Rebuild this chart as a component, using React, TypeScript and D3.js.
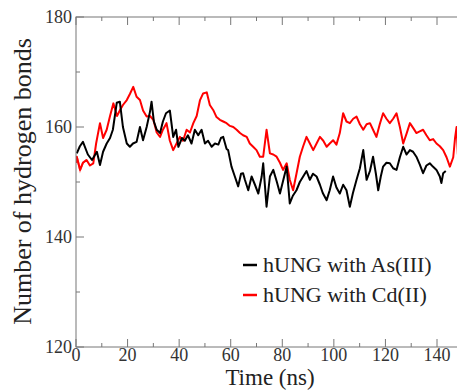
import React from "react";
import * as d3 from "d3";

const xTicks = [0, 20, 40, 60, 80, 100, 120, 140];
const yTicks = [120, 140, 160, 180];
const seriesNames = ["hUNG with As(III)", "hUNG with Cd(II)"];
const seriesColors = ["#000000", "#ff0000"];

const asTime = [0.3, 1.5, 2.7, 4.6, 6.2, 8.1, 9.3, 10.5, 11.9, 13.2, 14.3, 15.8, 17.0, 18.2, 19.7, 20.9, 22.1, 23.5, 24.8, 26.0, 27.4, 28.7, 29.3, 30.2, 31.3, 32.6, 33.7, 34.9, 36.4, 37.7, 38.8, 39.7, 41.1, 42.2, 43.4, 44.8, 46.1, 47.4, 48.7, 50.0, 51.2, 52.6, 53.9, 55.2, 56.2, 57.1, 58.4, 59.0, 60.3, 61.6, 62.9, 64.0, 64.8, 65.5, 66.8, 68.1, 69.4, 70.7, 72.0, 72.6, 73.9, 75.2, 76.5, 77.9, 79.1, 80.2, 81.7, 82.9, 84.1, 85.5, 86.8, 88.1, 89.4, 90.7, 91.9, 93.3, 94.6, 95.7, 97.2, 98.4, 99.7, 101.0, 102.3, 103.6, 104.9, 106.2, 107.4, 108.8, 110.1, 111.4, 112.7, 114.0, 115.2, 116.3, 117.2, 118.2, 119.1, 120.4, 121.7, 123.0, 124.3, 125.6, 126.9, 128.2, 129.5, 130.7, 132.0, 133.3, 134.6, 135.9, 137.2, 138.4, 139.8, 141.1, 141.7, 142.4, 143.4];
const asValues = [155.2, 156.5, 157.3, 155.0, 154.0, 155.5, 153.1, 155.5, 157.0, 158.0, 159.5, 164.4, 164.6, 160.0, 157.0, 156.4, 157.0, 157.3, 160.0, 157.6, 160.0, 162.8, 164.6, 161.0, 159.5, 158.9, 161.0, 162.5, 163.0, 158.2, 159.5, 156.4, 158.0, 157.5, 158.5, 157.0, 159.5, 158.5, 159.5, 157.0, 157.5, 156.4, 157.0, 156.8, 158.0, 158.2, 156.0, 155.8, 152.8, 151.0, 149.2, 151.5, 151.6, 150.4, 148.5, 151.0, 149.5, 147.9, 151.0, 153.4, 145.5, 151.0, 152.2, 150.0, 147.9, 150.0, 152.8, 146.1, 147.5, 148.5, 150.0, 151.0, 152.0, 150.4, 151.5, 151.0, 149.5, 148.0, 146.7, 148.5, 151.0, 149.0, 147.9, 149.5, 148.5, 145.5, 148.0, 150.4, 152.5, 155.8, 150.4, 152.0, 154.6, 151.5, 148.5, 151.0, 152.8, 153.5, 153.4, 152.5, 152.2, 154.5, 156.4, 155.0, 155.8, 155.5, 154.6, 153.2, 151.6, 153.0, 153.4, 152.8, 152.2, 151.0, 149.8, 151.6, 152.0];

const cdTime = [0.0, 0.3, 1.6, 2.7, 4.1, 5.4, 6.7, 7.8, 9.3, 10.5, 11.9, 13.2, 14.5, 15.9, 17.1, 18.2, 19.7, 20.9, 22.2, 23.5, 24.8, 26.0, 27.4, 28.7, 30.0, 31.3, 32.6, 33.7, 35.1, 36.4, 37.7, 39.0, 40.3, 41.5, 42.9, 44.2, 45.5, 46.8, 48.1, 49.3, 50.7, 51.9, 53.2, 54.5, 55.8, 57.1, 58.4, 59.7, 61.0, 62.3, 63.6, 64.8, 66.2, 67.4, 68.7, 70.0, 71.3, 72.6, 73.9, 75.2, 76.5, 77.8, 79.1, 80.3, 81.7, 82.9, 84.2, 85.5, 86.8, 88.1, 89.4, 90.7, 92.0, 93.3, 94.6, 95.9, 97.2, 98.4, 99.7, 101.0, 102.3, 103.6, 104.9, 106.2, 107.5, 108.8, 110.1, 111.4, 112.7, 114.0, 115.2, 116.5, 117.8, 119.1, 120.4, 121.7, 123.0, 124.3, 125.6, 126.9, 128.2, 129.5, 130.8, 132.0, 133.3, 134.6, 135.9, 137.2, 138.5, 139.8, 141.1, 142.4, 143.7, 145.0, 146.3, 147.0, 147.6, 148.1];
const cdValues = [153.5, 154.6, 152.2, 153.5, 154.0, 153.0, 153.4, 157.0, 160.7, 158.0, 159.5, 162.0, 164.3, 162.0, 163.1, 164.0, 164.9, 166.0, 167.3, 165.5, 164.9, 163.0, 161.9, 162.0, 161.3, 159.0, 158.2, 159.5, 160.7, 157.5, 155.8, 157.0, 158.2, 157.5, 159.5, 159.0, 160.7, 162.0, 164.9, 166.1, 166.3, 164.0, 163.1, 161.8, 161.3, 161.0, 160.7, 160.2, 160.0, 159.5, 158.9, 158.5, 158.2, 157.0, 156.4, 155.8, 154.6, 154.6, 159.5, 155.2, 155.0, 154.6, 153.5, 152.2, 153.4, 150.4, 148.5, 151.5, 154.6, 156.5, 158.2, 157.0, 155.8, 157.0, 158.2, 157.5, 156.4, 157.0, 157.6, 156.8, 158.9, 162.5, 161.0, 160.7, 161.5, 161.9, 160.5, 159.5, 160.5, 160.7, 159.5, 158.2, 160.5, 162.5, 161.5, 160.7, 161.5, 162.5, 160.0, 157.0, 158.8, 160.7, 159.8, 158.9, 159.2, 159.5, 158.5, 157.6, 157.8, 157.0, 156.5, 155.8, 154.5, 152.8, 154.5, 158.0, 160.0, 155.0];

const W = 457;
const H = 390;
const left = 76;
const top = 17;
const bottom = 347;
const xMax = 150;
const FONT = "'Liberation Serif', 'DejaVu Serif', 'Times New Roman', serif";

export default function App() {
  const x = d3.scaleLinear().domain([0, xMax]).range([left, left + (437 - 76) * (150 / 140)]);
  const y = d3.scaleLinear().domain([120, 180]).range([bottom, top]);
  const right = x(xMax);

  const line = d3
    .line<[number, number]>()
    .x((d) => x(d[0]))
    .y((d) => y(d[1]));

  const asData = asTime.map((t, i) => [t, asValues[i]] as [number, number]);
  const cdData = cdTime.map((t, i) => [t, cdValues[i]] as [number, number]);

  const xMinor = d3.range(0, xMax + 1, 10);
  const yMinor = d3.range(120, 181, 10);
  const tstyle = { fontFamily: FONT };

  return (
    <svg
      width={W}
      height={H}
      style={{ position: "absolute", left: 0, top: 0, background: "#fff", fontFamily: FONT }}
    >
      <defs>
        <clipPath id="plotclip">
          <rect x={left} y={top} width={right - left} height={bottom - top} />
        </clipPath>
      </defs>
      <g clipPath="url(#plotclip)">
        <path d={line(cdData) || ""} fill="none" stroke={seriesColors[1]} strokeWidth={2} strokeLinejoin="round" />
        <path d={line(asData) || ""} fill="none" stroke={seriesColors[0]} strokeWidth={2} strokeLinejoin="round" />
        <path d={line(cdData.filter((d) => d[0] < 5)) || ""} fill="none" stroke={seriesColors[1]} strokeWidth={2} opacity={0.6} />
      </g>
      <rect x={left} y={top} width={right - left} height={bottom - top} fill="none" stroke="#777" strokeWidth={1} />
      {xMinor.map((t) => {
        const major = t % 20 === 0;
        const len = major ? 8 : 4;
        return (
          <g key={"xt" + t}>
            <line x1={x(t)} x2={x(t)} y1={bottom} y2={bottom - len} stroke="#777" />
            <line x1={x(t)} x2={x(t)} y1={top} y2={top + len} stroke="#777" />
          </g>
        );
      })}
      {yMinor.map((v) => {
        const major = v % 20 === 0;
        const len = major ? 8 : 4;
        return <line key={"yt" + v} x1={left} x2={left + len} y1={y(v)} y2={y(v)} stroke="#777" />;
      })}
      {xTicks.map((t) => (
        <text key={"xl" + t} x={x(t)} y={361} textAnchor="middle" fontSize={18} fill="#333" style={tstyle}>
          {t}
        </text>
      ))}
      {yTicks.map((v) => (
        <text key={"yl" + v} x={72} y={y(v) + 6} textAnchor="end" fontSize={18} fill="#333" style={tstyle}>
          {v}
        </text>
      ))}
      <text x={270} y={384.5} textAnchor="middle" fontSize={23} fill="#222" style={tstyle}>
        Time (ns)
      </text>
      <text
        transform={`translate(31,${(30 + 333) / 2}) rotate(-90)`}
        textAnchor="middle"
        fontSize={26}
        fill="#222"
        style={tstyle}
      >
        Number of hydrogen bonds
      </text>
      {seriesNames.map((name, i) => (
        <g key={name} transform={`translate(0,${265 + i * 30})`}>
          <line x1={243} x2={257} y1={0} y2={0} stroke={seriesColors[i]} strokeWidth={2.5} />
          <text x={263} y={7} fontSize={22} fill="#222" style={tstyle}>
            {name}
          </text>
        </g>
      ))}
    </svg>
  );
}
